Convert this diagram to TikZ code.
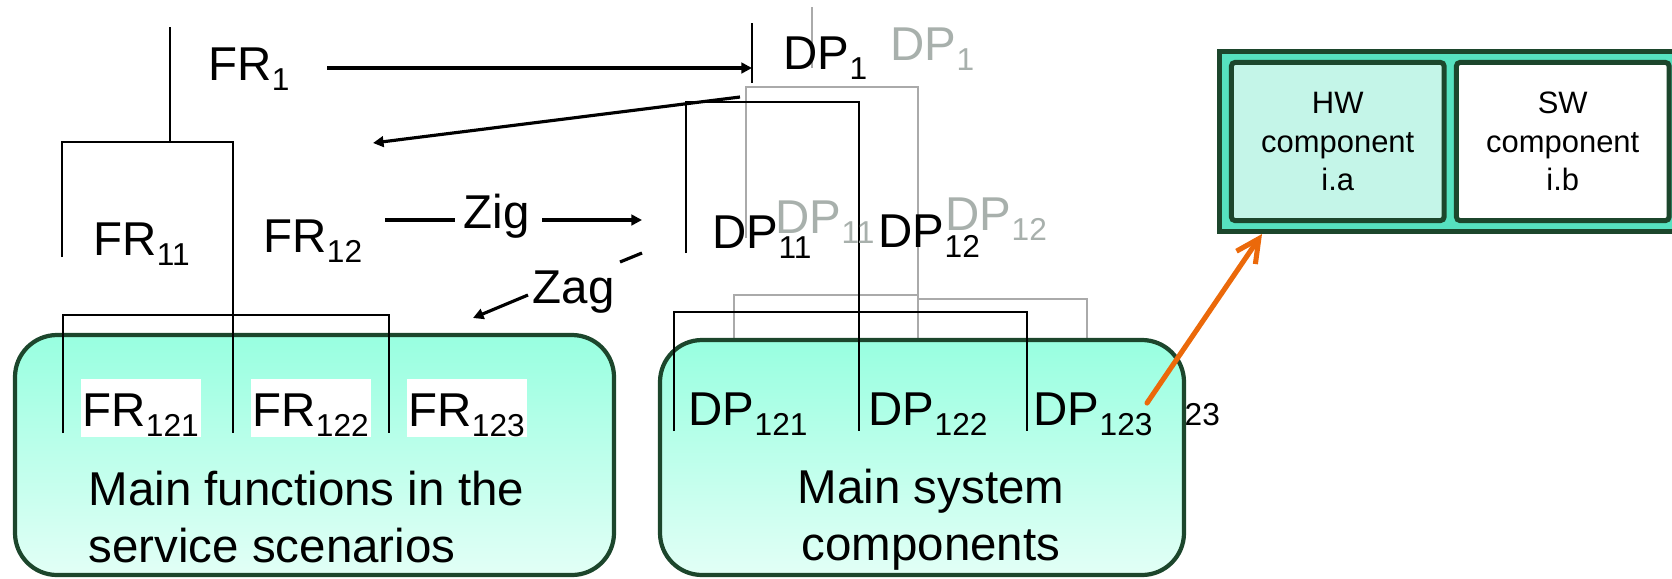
\documentclass[tikz,border=0pt]{standalone}
\usepackage{fontspec}
\setmainfont{Liberation Sans}
\usetikzlibrary{arrows.meta}
\definecolor{boxedge}{RGB}{28,70,44}
\definecolor{mintTop}{RGB}{152,255,224}
\definecolor{mintBot}{RGB}{226,255,246}
\definecolor{compTeal}{RGB}{86,226,192}
\definecolor{hwFill}{RGB}{196,245,232}
\definecolor{ghostText}{RGB}{168,176,172}
\definecolor{ghostLine}{RGB}{170,170,170}
\definecolor{zoomOrange}{RGB}{235,105,10}
\def\labfont{\fontsize{13.5}{16.2}\selectfont}
\def\partfont{\fontsize{8.8}{10.95}\selectfont}
\def\idx#1{\raisebox{-3.1pt}{\fontsize{9}{9}\selectfont #1}}

\begin{document}
\begin{tikzpicture}[x=0.01cm, y=-0.01cm,
		lab/.style={anchor=base west, inner sep=0pt, font=\labfont},
		ghost/.style={text=ghostText},
		whitebg/.style={fill=white, inner xsep=0.02cm, inner ysep=0pt, text height=0.47cm, text depth=0.11cm},
		bracket/.style={line width=0.63pt},
		ghostbracket/.style={line width=0.6pt, draw=ghostLine},
		arr/.style={line width=0.9pt, -{Triangle[length=3pt, width=3pt]}},
		group/.style={line width=1.2pt, draw=boxedge, rounded corners=0.42cm, top color=mintTop, bottom color=mintBot},
		part/.style={draw=boxedge, line width=1.42pt, rounded corners=1pt, minimum width=2.125cm, minimum height=1.58cm, inner sep=0pt, font=\partfont, align=center}]
			%%%%% START %%%%%
			\useasboundingbox (0,0) rectangle (1672,578);
			
			% grey copy of the DP tree, mostly hidden
			\draw[ghostbracket] (812,7) -- (812,68);
			\draw[ghostbracket] (746,238) -- (746,87) -- (918,87) -- (918,338);
			\draw[ghostbracket] (734,338) -- (734,295) -- (918,295);
			\draw[ghostbracket] (918,299) -- (1087,299) -- (1087,338);
			\node[lab, font=\fontsize{9}{9}\selectfont] (stray) at (1184,425) {23};
			
			% the two groups
			\draw[group] (15,335) rectangle (614,575);
			\draw[group] (660,340) rectangle (1184,575);
			
			% component box
			\node[draw=boxedge, line width=1.42pt, fill=compTeal, minimum width=4.7cm, minimum height=1.795cm, inner sep=0pt] (comp) at (1454.5,141.75) {};
			\node[part, fill=hwFill] (hw) at (1337.75,141.5) {HW\\component\\i.a};
			\node[part, fill=white] (sw) at (1562.75,141.5) {SW\\component\\i.b};
			
			% FR tree
			\draw[bracket] (170,27) -- (170,142);
			\draw[bracket] (62,257) -- (62,142) -- (233,142) -- (233,433);
			\draw[bracket] (63,433) -- (63,315) -- (389,315) -- (389,433);
			
			% DP tree
			\draw[bracket] (752,23) -- (752,83);
			\draw[bracket] (686,253) -- (686,102) -- (859,102) -- (859,431);
			\draw[bracket] (674,431) -- (674,312) -- (1027,312) -- (1027,431);
			
			\node[lab, ghost] (dp1g) at (890,60) {DP\idx{1}};
			\node[lab, ghost] (dp11g) at (775,233) {DP\idx{11}};
			\node[lab, ghost] (dp12g) at (945,230) {DP\idx{12}};
			
			\node[lab] (fr1) at (208,80) {FR\idx{1}};
			\node[lab] (fr11) at (93,255) {FR\idx{11}};
			\node[lab] (fr12) at (263,252) {FR\idx{12}};
			\node[lab, whitebg] (fr121) at (80,426) {FR\idx{121}};
			\node[lab, whitebg] (fr122) at (250,426) {FR\idx{122}};
			\node[lab, whitebg] (fr123) at (406,426) {FR\idx{123}};
			
			\node[lab] (dp1) at (783,69) {DP\idx{1}};
			\node[lab] (dp11) at (712,248) {DP\idx{11}};
			\node[lab] (dp12) at (878,247) {DP\idx{12}};
			\node[lab] (dp121) at (688,425) {DP\idx{121}};
			\node[lab] (dp122) at (868,425) {DP\idx{122}};
			\node[lab] (dp123) at (1033,425) {DP\idx{123}};
			
			\node[anchor=north west, inner sep=0pt, font=\labfont, align=left] (funcs) at (88,470) {Main functions in the\\service scenarios};
			\node[anchor=north, inner sep=0pt, font=\labfont, align=center] (comps) at (931,468) {Main system\\components};
			
			% zig and zag between the domains
			\node[lab] (zig) at (463,228) {Zig};
			\node[lab] (zag) at (532,303) {Zag};
			
			\coordinate (fr1out) at (327,68);
			\coordinate (dp1bar) at (752,68);
			\coordinate (dp1out) at (740,97);
			\coordinate (fr1in) at (373,143);
			\coordinate (zigA) at (385,220);
			\coordinate (zigB) at (455,220);
			\coordinate (zigC) at (542,220);
			\coordinate (zigD) at (642,220);
			\coordinate (zagA) at (642,253);
			\coordinate (zagB) at (620,262);
			\coordinate (zagC) at (528,295);
			\coordinate (zagD) at (473,318);
			\draw[arr] (fr1out) -- (dp1bar);
			\draw[arr] (dp1out) -- (fr1in);
			\draw[line width=0.9pt] (zigA) -- (zigB);
			\draw[arr] (zigC) -- (zigD);
			\draw[line width=0.9pt] (zagA) -- (zagB);
			\draw[arr] (zagC) -- (zagD);
			
			% DP123 is opened up into its parts
			\coordinate (zoomfoot) at (1147,403);
			\coordinate (zoomtip) at (1262,234);
			\draw[line width=1.45pt, draw=zoomOrange, line cap=round, line join=round, -{Straight Barb[length=6.5pt, width=6.5pt]}] (zoomfoot) -- (zoomtip);
			
			%%%%% END %%%%%
		\end{tikzpicture}
\end{document}
